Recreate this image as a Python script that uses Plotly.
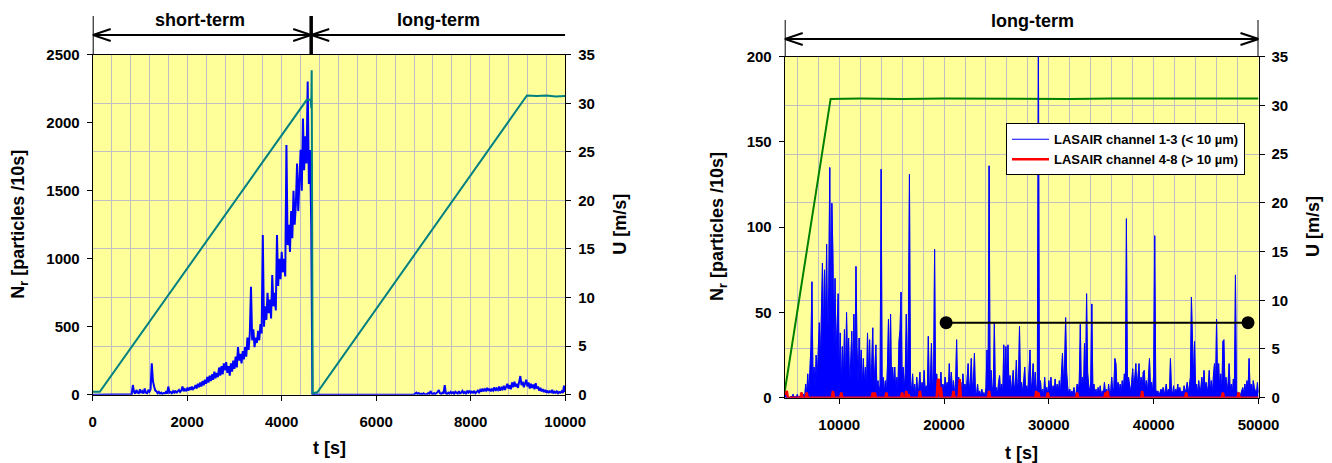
import plotly.graph_objects as go

# ------------------------------------------------------------------
# DATA
# ------------------------------------------------------------------
# Left panel: particle count N_r (blue), sampled every 25 s from t = 0 s
T_LEFT_START = 0
T_LEFT_STEP = 25
NR_LEFT = [
    0, 0, 1, 0, 0, 1, 0, 0, 0, 1, 0, 0, 1, 0, 0, 0,                          # 0-375
    0, 1, 0, 0, 1, 0, 0, 2, 0, 1, 0, 0, 2, 1, 0, 3,                          # 400-775
    5, 3, 71, 20, 8, 35, 15, 10, 40, 12, 25, 8, 45, 15, 10, 30,              # 800-1175
    20, 40, 230, 100, 60, 30, 25, 10, 20, 8, 15, 5, 12, 10, 20, 8,           # 1200-1575
    60, 15, 20, 10, 25, 15, 30, 12, 25, 35, 20, 30, 60, 25, 40, 30,          # 1600-1975
    45, 30, 55, 35, 60, 40, 50, 70, 45, 80, 55, 90, 60, 100, 70, 110,        # 2000-2375
    80, 130, 90, 140, 100, 150, 110, 170, 120, 160, 130, 200, 140, 210, 150, 230,   # 2400-2775
    180, 240, 160, 210, 140, 230, 170, 250, 190, 280, 200, 350, 250, 300, 230, 320, # 2800-3175
    260, 350, 280, 420, 330, 450, 794, 400, 480, 350, 420, 380, 470, 400, 520, 450, # 3200-3575
    1174, 500, 650, 550, 750, 600, 700, 560, 880, 650, 750, 620, 1174, 800, 1000, 850,       # 3600-3975
    1050, 900, 1000, 870, 1836, 1100, 1250, 1050, 1350, 1150, 1500, 1250, 1400, 1700, 1350, 1550,  # 4000-4375
    1800, 1500, 2030, 1650, 1900, 1700, 2302, 1550, 1800, 1260, 0, 0, 2, 0, 1, 0,  # 4400-4775
    0, 1, 0, 0, 1, 0, 0, 0, 1, 0, 0, 1, 0, 0, 0, 1,                          # 4800-5175
    0, 0, 1, 0, 0, 0, 1, 0, 0, 1, 0, 0, 0, 1, 0, 0,                          # 5200-5575
    0, 1, 0, 0, 0, 1, 0, 0, 1, 0, 0, 0, 1, 0, 0, 2,                          # 5600-5975
    0, 1, 0, 2, 0, 0, 1, 0, 3, 0, 1, 0, 2, 0, 1, 0,                          # 6000-6375
    1, 0, 3, 0, 1, 2, 0, 4, 1, 0, 2, 0, 5, 1, 0, 3,                          # 6400-6775
    2, 8, 15, 5, 12, 3, 8, 2, 10, 4, 6, 3, 12, 5, 27, 8,                     # 6800-7175
    5, 12, 4, 10, 20, 34, 10, 6, 15, 8, 71, 10, 5, 15, 8, 20,                # 7200-7575
    10, 18, 6, 22, 12, 8, 25, 10, 15, 28, 12, 20, 8, 25, 15, 30,             # 7600-7975
    12, 22, 15, 28, 10, 20, 30, 18, 35, 22, 45, 25, 40, 30, 50, 28,          # 8000-8375
    45, 25, 40, 30, 55, 28, 45, 35, 60, 30, 50, 40, 65, 35, 55, 80,          # 8400-8775
    45, 70, 40, 90, 55, 95, 60, 80, 50, 100, 137, 70, 95, 55, 85, 110,       # 8800-9175
    60, 90, 45, 80, 50, 75, 40, 85, 45, 60, 30, 50, 25, 40, 20, 35,          # 9200-9575
    15, 30, 12, 25, 18, 35, 10, 22, 15, 28, 10, 20, 15, 25, 12, 67,          # 9600-9975
    20,                                                                       # 10000
]

# Left panel: wind speed U (teal)
U_LEFT_T = [0, 150, 4530, 4615, 4625, 4635, 4655, 4755, 9190, 9400, 9600, 9800, 10000]
U_LEFT = [0.3, 0.3, 30.35, 30.35, 29.5, 33.4, 0.15, 0.25, 30.8, 30.75, 30.8, 30.7, 30.75]

# Right panel: particle counts sampled every 100 s from t = 4800 s
T_RIGHT_START = 4800
T_RIGHT_STEP = 100
NR_CH13 = [
    1, 2, 0, 1, 0, 0, 1, 0, 2, 0, 1, 0, 2, 0, 1, 0, 3, 1, 2, 0,               # 4800-6700
    8, 2, 14, 3, 16, 30, 68, 10, 18, 6, 25, 10, 28, 44, 20, 60, 79, 35, 75, 40,  # 6800-8700
    90, 30, 65, 135, 40, 114, 85, 28, 70, 25, 45, 61, 12, 38, 6, 30, 10, 40, 8, 50,  # 8800-10700
    20, 35, 5, 28, 39, 10, 49, 15, 77, 30, 8, 35, 12, 28, 5, 23, 8, 18, 4, 38,   # 10800-12700
    12, 34, 6, 20, 41, 4, 15, 31, 3, 10, 2, 8, 134, 5, 12, 3, 10, 2, 18, 46,     # 12800-14700
    8, 49, 4, 18, 6, 18, 3, 12, 5, 33, 40, 62, 8, 18, 4, 15, 49, 6, 44, 131,     # 14800-16700
    10, 3, 14, 2, 8, 1, 12, 3, 6, 15, 2, 9, 3, 16, 4, 7, 2, 36, 5, 10,           # 16800-18700
    32, 4, 12, 87, 3, 14, 5, 10, 2, 15, 4, 8, 2, 12, 5, 9, 3, 20, 6, 15,         # 18800-20700
    3, 10, 2, 8, 34, 4, 12, 2, 9, 3, 14, 5, 8, 2, 11, 20, 4, 9, 23, 5,           # 20800-22700
    10, 26, 3, 2, 8, 1, 4, 1, 5, 2, 3, 1, 6, 28, 3, 136, 4, 16, 3, 8,            # 22800-24700
    44, 5, 6, 2, 9, 13, 3, 8, 2, 31, 6, 30, 4, 31, 5, 13, 2, 10, 16, 4,          # 24800-26700
    8, 22, 3, 12, 42, 5, 9, 2, 11, 18, 3, 7, 2, 12, 28, 4, 9, 20, 5, 15,         # 26800-28700
    3, 8, 215, 4, 10, 2, 5, 1, 12, 3, 6, 2, 10, 3, 12, 2, 7, 3, 11, 4,           # 28800-30700
    8, 3, 10, 2, 12, 26, 8, 20, 47, 15, 6, 2, 5, 1, 4, 2, 6, 1, 3, 8,            # 30800-32700
    3, 10, 43, 5, 12, 4, 32, 8, 61, 15, 7, 3, 10, 55, 4, 8, 2, 5, 1, 6,          # 32800-34700
    2, 7, 1, 4, 2, 9, 3, 5, 1, 8, 2, 4, 12, 3, 6, 23, 20, 5, 9, 3,               # 34800-36700
    8, 2, 10, 4, 14, 6, 105, 5, 12, 7, 3, 9, 17, 4, 11, 20, 5, 14, 20, 6,        # 36800-38700
    12, 4, 15, 16, 5, 10, 3, 12, 23, 6, 9, 3, 14, 95, 5, 2, 4, 1, 3, 5,          # 38800-40700
    2, 6, 1, 4, 8, 2, 5, 3, 23, 4, 2, 7, 1, 5, 3, 8, 2, 6, 1, 4,                 # 40800-42700
    2, 7, 3, 5, 9, 2, 6, 12, 59, 38, 10, 33, 4, 8, 2, 10, 3, 6, 12, 4,           # 42800-44700
    16, 5, 9, 3, 7, 16, 4, 10, 2, 13, 20, 6, 46, 8, 20, 5, 14, 3, 33, 34,        # 44800-46700
    6, 12, 3, 9, 20, 4, 8, 2, 11, 5, 72, 4, 2, 3, 1, 2, 5, 6, 2, 8,              # 46800-48700
    3, 10, 4, 23, 5, 8, 2, 10, 6, 3, 2, 9, 3,                                    # 48800-50000
]
NR_CH48 = [
    3, 2, 4, 0, 0, 0, 0, 0, 0, 0, 0, 0, 0, 0, 0, 0, 3, 0, 0, 0,     # 4800-6700
    0, 3, 0, 0, 0, 0, 0, 0, 0, 0, 0, 0, 0, 0, 0, 0, 0, 0, 0, 0,     # 6800-8700
    0, 0, 0, 0, 0, 0, 4, 0, 0, 0, 0, 0, 0, 0, 3, 0, 0, 0, 0, 0,     # 8800-10700
    0, 0, 0, 0, 0, 0, 0, 0, 0, 0, 0, 0, 0, 0, 0, 0, 0, 0, 0, 0,     # 10800-12700
    0, 0, 0, 0, 3, 0, 3, 0, 0, 0, 0, 0, 0, 0, 0, 0, 0, 3, 0, 0,     # 12800-14700
    0, 0, 0, 0, 0, 0, 0, 0, 0, 0, 0, 0, 3, 0, 0, 0, 4, 0, 2, 0,     # 14800-16700
    0, 0, 0, 0, 0, 0, 0, 0, 0, 4, 0, 0, 0, 0, 0, 0, 0, 0, 0, 0,     # 16800-18700
    0, 0, 0, 0, 0, 0, 10, 11, 0, 6, 0, 0, 0, 0, 0, 0, 0, 0, 0, 0,   # 18800-20700
    0, 4, 0, 0, 0, 0, 0, 11, 0, 0, 0, 0, 0, 0, 0, 0, 0, 0, 0, 0,    # 20800-22700
    0, 0, 0, 0, 0, 0, 0, 0, 0, 0, 0, 0, 0, 0, 0, 4, 0, 0, 0, 0,     # 22800-24700
    0, 0, 0, 0, 0, 0, 0, 0, 0, 0, 0, 0, 0, 0, 0, 0, 0, 0, 0, 0,     # 24800-26700
    0, 0, 0, 0, 0, 0, 0, 0, 0, 0, 0, 0, 0, 0, 0, 0, 0, 0, 0, 0,     # 26800-28700
    4, 0, 3, 0, 0, 0, 0, 0, 0, 0, 0, 3, 0, 0, 0, 0, 0, 0, 0, 0,     # 28800-30700
    0, 0, 0, 0, 0, 0, 0, 0, 0, 0, 0, 0, 0, 0, 0, 0, 0, 0, 0, 3,     # 30800-32700
    0, 0, 0, 0, 0, 0, 0, 0, 0, 0, 0, 0, 0, 0, 0, 0, 0, 0, 0, 0,     # 32800-34700
    0, 0, 0, 0, 0, 0, 3, 0, 4, 0, 0, 0, 0, 0, 0, 0, 0, 0, 0, 0,     # 34800-36700
    0, 0, 0, 0, 0, 0, 0, 0, 0, 0, 0, 0, 0, 0, 0, 0, 0, 0, 0, 0,     # 36800-38700
    0, 4, 0, 0, 0, 0, 0, 0, 0, 0, 0, 0, 0, 0, 0, 0, 0, 0, 0, 0,     # 38800-40700
    0, 0, 0, 0, 0, 0, 0, 0, 0, 0, 0, 0, 0, 0, 0, 0, 0, 0, 0, 0,     # 40800-42700
    0, 0, 0, 3, 0, 0, 0, 0, 0, 0, 0, 0, 0, 0, 0, 0, 0, 0, 0, 0,     # 42800-44700
    0, 0, 0, 0, 0, 0, 0, 0, 0, 0, 0, 0, 0, 0, 0, 0, 0, 0, 3, 0,     # 44800-46700
    0, 0, 0, 0, 0, 0, 0, 0, 0, 0, 0, 0, 0, 3, 0, 0, 0, 0, 0, 0,     # 46800-48700
    0, 0, 0, 0, 0, 0, 0, 0, 0, 0, 0, 0, 0,                          # 48800-50000
]

# Right panel: wind speed U (green)
U_RIGHT_T = [4800, 9180, 12000, 16000, 20000, 24000, 28000, 32000, 36000, 40000, 44000, 48000, 50000]
U_RIGHT = [0.6, 30.67, 30.7, 30.65, 30.7, 30.68, 30.72, 30.66, 30.7, 30.69, 30.71, 30.67, 30.7]

# Right panel: evaluation window marker (black dumbbell)
WINDOW_T = [20200, 49000]
WINDOW_N = [44, 44]

# Phase boundaries (s)
LEFT_PHASES = [0, 4624, 10000]
RIGHT_PHASE = [4800, 50000]
PHASE_LABEL_T_LEFT = [2270, 7310]
PHASE_LABEL_T_RIGHT = 28400
PHASE_LABELS_LEFT = ["short-term", "long-term"]
PHASE_LABEL_RIGHT = "long-term"

LEGEND_NAMES = ["LASAIR channel 1-3 (< 10 µm)", "LASAIR channel 4-8 (> 10 µm)"]

# ------------------------------------------------------------------
# STYLE / LAYOUT
# ------------------------------------------------------------------
# The page body has an 8 px margin, so the figure is 8 px smaller and all
# target pixel positions (measured in the 1332x463 window) are shifted by 8.
OFF = 8
W, H = 1332 - OFF, 463 - OFF
def px(p):
    return (p - OFF) / W
def py(p):
    return 1 - (p - OFF) / H

FONT = "Liberation Sans, Arial, sans-serif"
GRID = "#C0C0C0"
BG = "#FFFF99"
TICKFONT = dict(family=FONT, size=15, color="black", weight="bold")
TITLEFONT = dict(family=FONT, size=18, color="black", weight="bold")

LEFT_X = [px(92.7), px(565.2)]
LEFT_Y = [py(394.7), py(54.7)]
RIGHT_X = [px(784.7), px(1258.5)]
RIGHT_Y = [py(397.7), py(56.7)]

t_left = [T_LEFT_START + i * T_LEFT_STEP for i in range(len(NR_LEFT))]
t_right = [T_RIGHT_START + i * T_RIGHT_STEP for i in range(len(NR_CH13))]

fig = go.Figure()
fig.add_trace(go.Scatter(x=t_left, y=NR_LEFT, mode="lines", xaxis="x", yaxis="y",
                         line=dict(color="#0000FF", width=2), showlegend=False))
fig.add_trace(go.Scatter(x=U_LEFT_T, y=U_LEFT, mode="lines", xaxis="x", yaxis="y2",
                         line=dict(color="#008080", width=2), showlegend=False))
fig.add_trace(go.Scatter(x=U_RIGHT_T, y=U_RIGHT, mode="lines", xaxis="x2", yaxis="y3",
                         line=dict(color="#008000", width=2), showlegend=False))
# dense channel 1-3 record: filled body + line (line carries the legend entry)
fig.add_trace(go.Scatter(x=t_right, y=NR_CH13, mode="lines", xaxis="x2", yaxis="y4",
                         line=dict(color="#0000FF", width=0.5), fill="tozeroy",
                         fillcolor="#0000FF", showlegend=False, hoverinfo="skip"))
fig.add_trace(go.Scatter(x=t_right, y=NR_CH13, mode="lines", xaxis="x2", yaxis="y4",
                         name=LEGEND_NAMES[0], line=dict(color="#0000FF", width=1)))
fig.add_trace(go.Scatter(x=t_right, y=NR_CH48, mode="lines", xaxis="x2", yaxis="y4",
                         name=LEGEND_NAMES[1], line=dict(color="#FF0000", width=2.5)))
fig.add_trace(go.Scatter(x=WINDOW_T, y=WINDOW_N, mode="lines+markers", xaxis="x2", yaxis="y4",
                         line=dict(color="black", width=2), marker=dict(color="black", size=13),
                         showlegend=False))

common = dict(showline=True, linecolor="black", linewidth=1, ticks="outside", ticklen=5,
              tickcolor="black", tickfont=TICKFONT, zeroline=False, automargin=False)

fig.update_layout(
    width=W, height=H,
    margin=dict(l=0, r=0, t=0, b=0, autoexpand=False),
    paper_bgcolor="white", plot_bgcolor=BG,
    font=dict(family=FONT, color="black"),
    xaxis=dict(domain=LEFT_X, anchor="y", range=[0, 10000], tick0=0, dtick=2000, tickformat="d",
               showgrid=True, gridcolor=GRID, mirror=True, ticklabelstandoff=8,
               minor=dict(tick0=0, dtick=400, showgrid=True, gridcolor=GRID, ticks=""), **common),
    yaxis=dict(domain=LEFT_Y, anchor="x", range=[0, 2500], dtick=500, showgrid=False,
               ticklabelstandoff=4, **common),
    yaxis2=dict(overlaying="y", side="right", anchor="x", range=[0, 35], dtick=5,
                showgrid=True, gridcolor=GRID, ticklabelstandoff=4, **common),
    xaxis2=dict(domain=RIGHT_X, anchor="y3", range=[4800, 50000], tick0=0, dtick=10000, tickformat="d",
                showgrid=True, gridcolor=GRID, mirror=True, ticklabelstandoff=8, layer="below traces",
                minor=dict(tick0=0, dtick=2000, showgrid=True, gridcolor=GRID, ticks=""), **common),
    yaxis3=dict(domain=RIGHT_Y, anchor="x2", side="right", range=[0, 35], dtick=5,
                showgrid=True, gridcolor=GRID, ticklabelstandoff=4, **common),
    yaxis4=dict(overlaying="y3", side="left", anchor="x2", range=[0, 200], dtick=50,
                showgrid=False, ticklabelstandoff=4, **common),
    legend=dict(x=px(1006), y=py(123.3), xanchor="left", yanchor="top", itemwidth=37,
                bgcolor="white", bordercolor="black", borderwidth=1,
                font=dict(family=FONT, size=13, color="black", weight="bold")),
)

# axis titles
ann = []
ann.append(dict(text="N<sub>r</sub> [particles /10s]", x=px(20), y=py(224.7), xref="paper", yref="paper",
                textangle=-90, showarrow=False, font=TITLEFONT, xanchor="center", yanchor="middle"))
ann.append(dict(text="U [m/s]", x=px(620), y=py(224.7), xref="paper", yref="paper",
                textangle=-90, showarrow=False, font=TITLEFONT, xanchor="center", yanchor="middle"))
ann.append(dict(text="t [s]", x=px(329), y=py(448), xref="paper", yref="paper",
                showarrow=False, font=TITLEFONT, xanchor="center", yanchor="middle"))
ann.append(dict(text="N<sub>r</sub> [particles /10s]", x=px(718), y=py(227), xref="paper", yref="paper",
                textangle=-90, showarrow=False, font=TITLEFONT, xanchor="center", yanchor="middle"))
ann.append(dict(text="U [m/s]", x=px(1313), y=py(227), xref="paper", yref="paper",
                textangle=-90, showarrow=False, font=TITLEFONT, xanchor="center", yanchor="middle"))
ann.append(dict(text="t [s]", x=px(1021), y=py(453), xref="paper", yref="paper",
                showarrow=False, font=TITLEFONT, xanchor="center", yanchor="middle"))
# phase labels
for tl, lab in zip(PHASE_LABEL_T_LEFT, PHASE_LABELS_LEFT):
    ann.append(dict(text=lab, x=tl, y=py(20), xref="x", yref="paper", showarrow=False,
                    font=TITLEFONT, xanchor="center", yanchor="middle"))
ann.append(dict(text=PHASE_LABEL_RIGHT, x=PHASE_LABEL_T_RIGHT, y=py(21), xref="x2", yref="paper",
                showarrow=False, font=TITLEFONT, xanchor="center", yanchor="middle"))
fig.update_layout(annotations=ann)

# phase brackets
shapes = []
def vline(xref, xv, top, bottom, width):
    shapes.append(dict(type="line", xref=xref, yref="paper", x0=xv, x1=xv, y0=py(top), y1=py(bottom),
                       line=dict(color="black", width=width)))
def hline(xref, xa, xb, ypx):
    shapes.append(dict(type="line", xref=xref, yref="paper", x0=xa, x1=xb, y0=py(ypx), y1=py(ypx),
                       line=dict(color="black", width=2)))
def chevron(xref, xv, ypx, direction):
    d = 18 * direction
    shapes.append(dict(type="path", xref=xref, yref="paper", xsizemode="pixel", ysizemode="pixel",
                       xanchor=xv, yanchor=py(ypx),
                       path=f"M {d},6 L 0,0 L {d},-6", line=dict(color="black", width=2)))

# left panel
vline("x", LEFT_PHASES[0], 16, 54.7, 2)
vline("x", LEFT_PHASES[1], 16, 54.7, 3.5)
hline("x", LEFT_PHASES[0], LEFT_PHASES[2], 35)
chevron("x", LEFT_PHASES[0], 35, 1)
chevron("x", LEFT_PHASES[1], 35, -1)
chevron("x", LEFT_PHASES[1], 35, 1)
# right panel
vline("x2", RIGHT_PHASE[0], 20, 56.7, 2)
vline("x2", RIGHT_PHASE[1], 20, 56.7, 2)
hline("x2", RIGHT_PHASE[0], RIGHT_PHASE[1], 39)
chevron("x2", RIGHT_PHASE[0], 39, 1)
chevron("x2", RIGHT_PHASE[1], 39, -1)
fig.update_layout(shapes=shapes)

fig.write_html("out.html")
